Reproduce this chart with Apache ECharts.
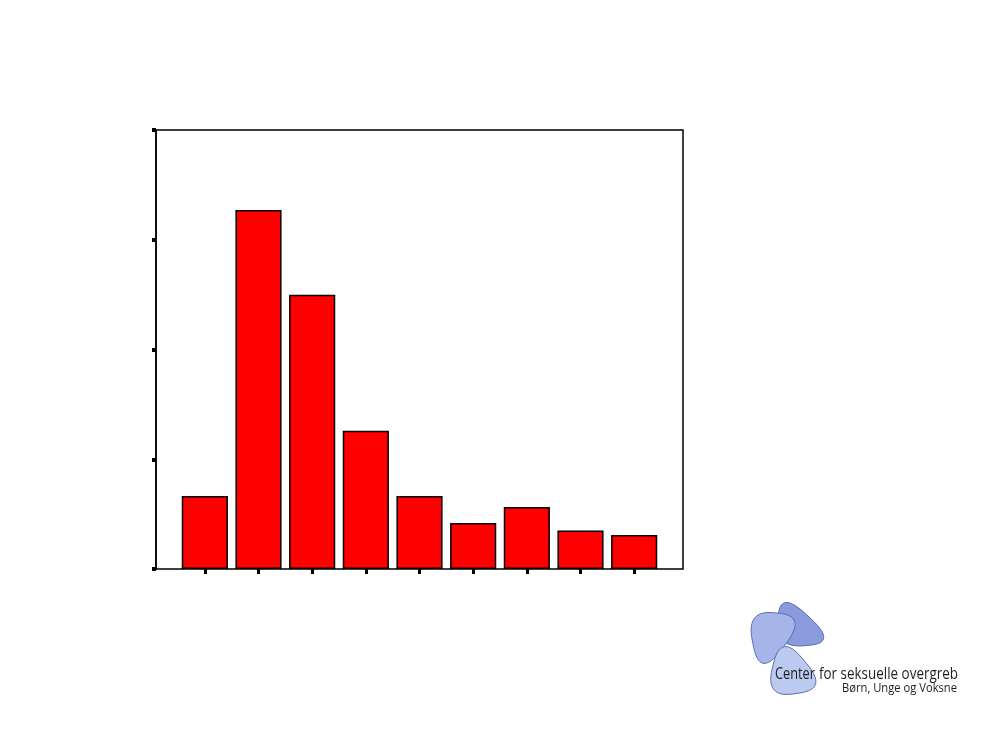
<!DOCTYPE html>
<html><head><meta charset="utf-8">
<script src="https://cdn.jsdelivr.net/npm/echarts@6/dist/echarts.min.js"></script>
<style>html,body{margin:0;padding:0;background:#fff}#c{width:1000px;height:750px}</style>
</head><body><div id="c"></div>
<script>
var categories = ['1','2','3','4','5','6','7','8','9'];
var values = [6.65, 32.7, 25.0, 12.6, 6.65, 4.2, 5.65, 3.5, 3.1];
var yTicks = [0, 10, 20, 30, 40];
var logoLine1a = 'Center';
var logoLine1b = 'for seksuelle overgreb';
var logoLine2 = 'Børn, Unge og Voksne';

function roundTri(p, r) {
  var n = p.length, pts = [];
  function lerp(a, b, t) { return [a[0] + (b[0] - a[0]) * t, a[1] + (b[1] - a[1]) * t]; }
  for (var i = 0; i < n; i++) {
    var prev = p[(i + n - 1) % n], cur = p[i], next = p[(i + 1) % n];
    var a = lerp(cur, prev, r), b = lerp(cur, next, r);
    for (var k = 0; k <= 14; k++) {
      var t = k / 14;
      var x = (1 - t) * (1 - t) * a[0] + 2 * (1 - t) * t * cur[0] + t * t * b[0];
      var y = (1 - t) * (1 - t) * a[1] + 2 * (1 - t) * t * cur[1] + t * t * b[1];
      pts.push([x, y]);
    }
  }
  return pts;
}

var mctx = document.createElement('canvas').getContext('2d');
function fitText(text, font, x, top, width) {
  mctx.font = font;
  var w = mctx.measureText(text).width;
  return {type: 'text', x: x, y: top, scaleX: width / w,
    style: {text: text, font: font, fill: '#1f1f1f'}};
}
var f1 = '17px "Open Sans", sans-serif';
var f2 = '13px "Open Sans", sans-serif';

var chart = echarts.init(document.getElementById('c'));
chart.setOption({
  animation: false,
  backgroundColor: '#fff',
  grid: [
    {left: 156, right: 317, top: 130, bottom: 181, show: true, borderColor: '#000', borderWidth: 1.5, backgroundColor: 'transparent'},
    {left: 178, right: 339, top: 130, bottom: 181}
  ],
  xAxis: [
    {gridIndex: 0, type: 'value', min: 0, max: 1, show: false},
    {gridIndex: 1, type: 'category', data: categories,
     axisLine: {show: false},
     axisTick: {show: true, alignWithLabel: true, length: 5, lineStyle: {color: '#000', width: 3}},
     axisLabel: {show: false}}
  ],
  yAxis: [
    {gridIndex: 0, type: 'value', min: 0, max: 40, interval: 10,
     axisLine: {show: true, lineStyle: {color: '#000', width: 1.5}},
     axisTick: {show: true, length: 4, lineStyle: {color: '#000', width: 4}},
     axisLabel: {show: false}, splitLine: {show: false}},
    {gridIndex: 1, type: 'value', min: 0, max: 40, interval: 10, show: false, splitLine: {show: false}}
  ],
  series: [{
    type: 'bar', xAxisIndex: 1, yAxisIndex: 1, data: values,
    barWidth: '86%',
    itemStyle: {color: '#ff0000', borderColor: '#000', borderWidth: 1.5}
  }],
  graphic: [
    {type: 'polygon', shape: {points: roundTri([[780,590],[837,643],[776,648]], 0.45)}, style: {fill: '#899bdb', stroke: '#5a6db5', lineWidth: 1}},
    {type: 'polygon', shape: {points: roundTri([[746,610],[807,616],[760,678]], 0.45)}, style: {fill: '#a5b5e8', stroke: '#5a6db5', lineWidth: 1}},
    {type: 'polygon', shape: {points: roundTri([[781,633],[828,689],[765,698]], 0.45)}, style: {fill: '#bccaf0', stroke: '#5a6db5', lineWidth: 1}},
    fitText(logoLine1a, f1, 775, 666, 40),
    fitText(logoLine1b, f1, 819, 666, 139),
    fitText(logoLine2, f2, 842, 682, 115)
  ]
});
</script></body></html>
